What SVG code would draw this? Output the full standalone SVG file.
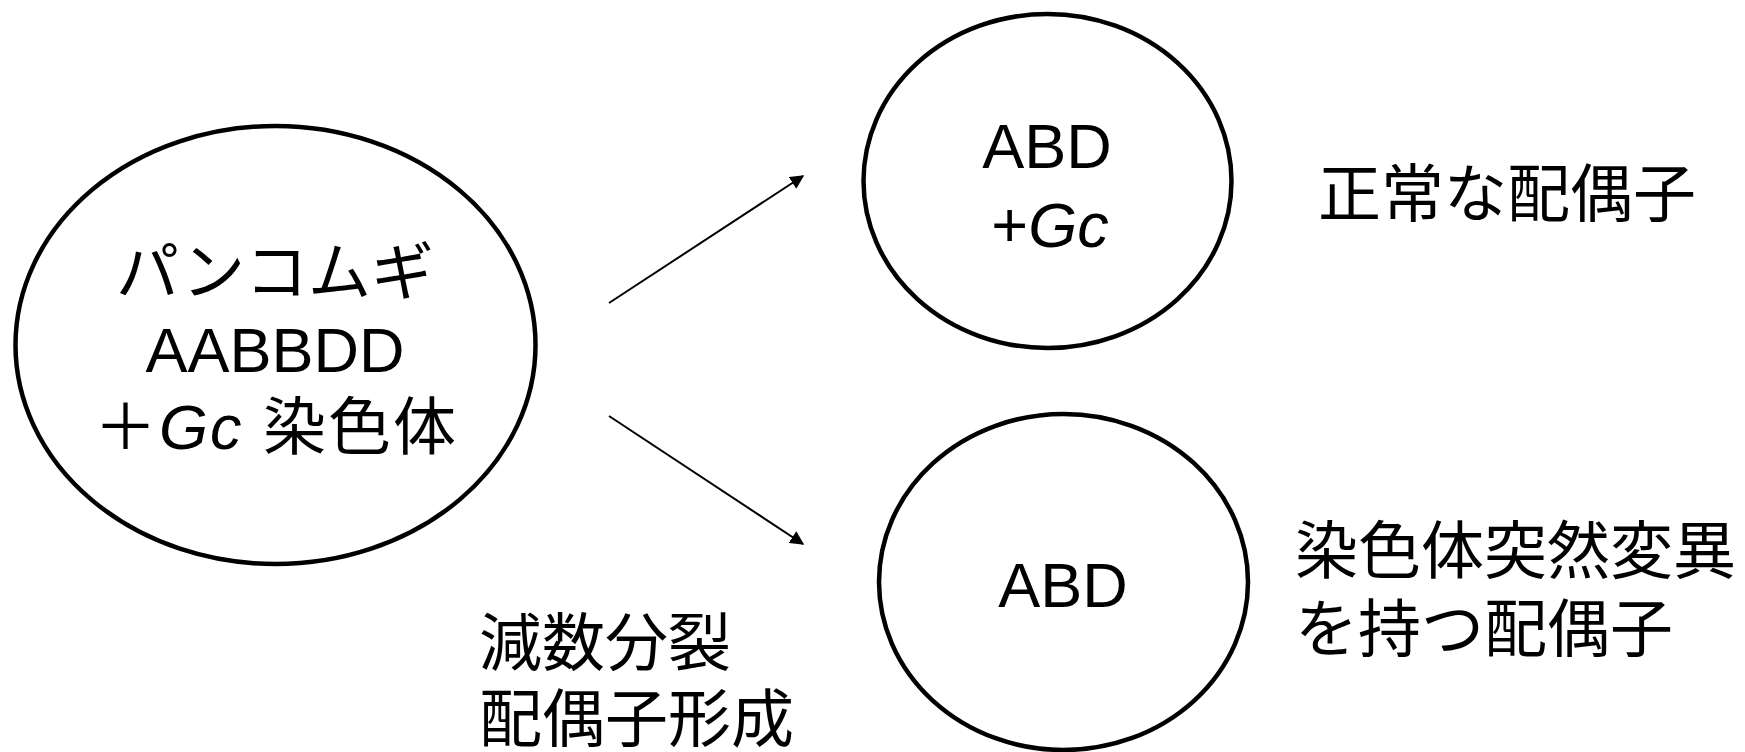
<svg xmlns="http://www.w3.org/2000/svg" width="1745" height="752" viewBox="0 0 1745 752">
<defs>
<style>
.node{fill:#fff;stroke:#000;stroke-width:4.5}
.t{font-family:"Liberation Sans","Noto Sans CJK JP",sans-serif;font-size:63px;fill:#000}
.c{text-anchor:middle}
.it{font-style:italic}
.edge{stroke:#000;stroke-width:2;fill:none;marker-end:url(#arr)}
</style>
<marker id="arr" viewBox="0 0 10 10" refX="9" refY="5" markerWidth="7" markerHeight="7" orient="auto" markerUnits="strokeWidth">
<path d="M0,0 L10,5 L0,10 z" fill="#000"/>
</marker>
</defs>
<rect width="1745" height="752" fill="#fff"/>
<g id="connectors">
<line class="edge" x1="609" y1="303" x2="803" y2="176"/>
<line class="edge" x1="609" y1="416" x2="803" y2="544"/>
</g>
<g id="wheat">
<ellipse class="node" cx="275.5" cy="345" rx="260" ry="219"/>
<text class="t c" x="275" y="294">パンコムギ</text>
<text class="t c" x="275" y="372">AABBDD</text>
<text class="t c" x="276" y="449" letter-spacing="2">＋<tspan class="it">Gc</tspan> 染色体</text>
</g>
<g id="normal">
<ellipse class="node" cx="1047.5" cy="181" rx="184" ry="167"/>
<text class="t c" x="1047" y="168">ABD</text>
<text class="t c" x="1050" y="247">+<tspan class="it">Gc</tspan></text>
</g>
<g id="mutant">
<ellipse class="node" cx="1063.5" cy="582" rx="184.5" ry="168"/>
<text class="t c" x="1063" y="607">ABD</text>
</g>
<g id="label-normal">
<text class="t" x="1318" y="216">正常な配偶子</text>
</g>
<g id="label-mutant">
<text class="t" x="1295" y="573">染色体突然変異</text>
<text class="t" x="1295" y="651">を持つ配偶子</text>
</g>
<g id="label-meiosis">
<text class="t" x="479" y="665">減数分裂</text>
<text class="t" x="479" y="741">配偶子形成</text>
</g>
</svg>
